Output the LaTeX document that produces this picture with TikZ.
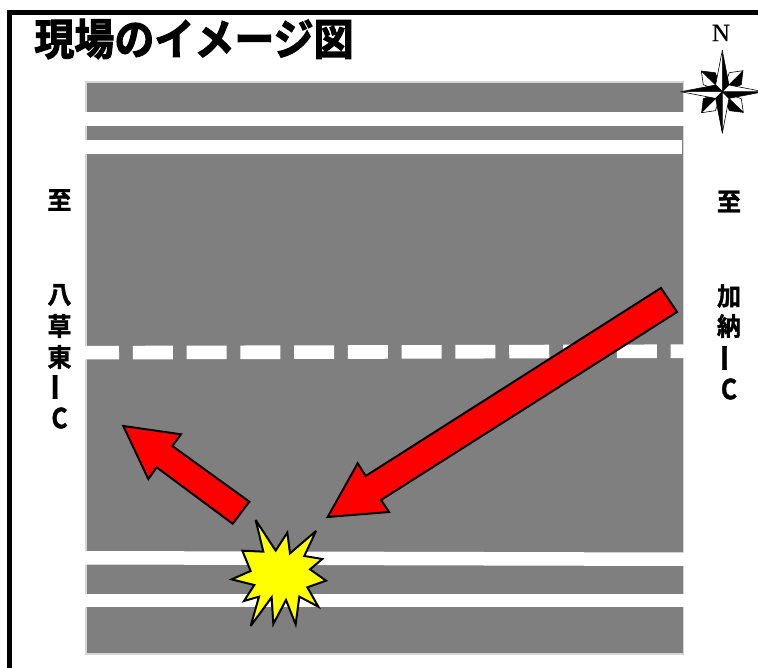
\documentclass[tikz,border=0pt]{standalone}
\usepackage{fontspec}
\newfontfamily\jpfont[FakeBold=1.5]{Noto Sans CJK JP Bold}
\newfontfamily\jpbar[FakeBold=0.6]{Noto Sans CJK JP Bold}
\newfontfamily\jptitle[FakeBold=2.6]{Noto Sans CJK JP Bold}
\newfontfamily\nfont[FakeBold=0.5]{Liberation Serif}
\definecolor{roadgray}{HTML}{7F7F7F}
\definecolor{roadedge}{HTML}{D6D6D6}
\definecolor{burst}{HTML}{FFFF00}
\tikzset{
  frameline/.style={line width=5pt,black},
  whitestrip/.style={fill=white,draw=none},
  redarrow/.style={fill=red,draw=black,line width=2pt,line join=miter},
  sidelabel/.style={font=\jpfont\fontsize{24}{24}\selectfont,inner sep=0pt,anchor=center,text=black,yscale=1.05},
  sidebar/.style={font=\jpbar\fontsize{29}{29}\selectfont,inner sep=0pt,anchor=center,text=black,rotate=90},
  sidec/.style={font=\jpfont\fontsize{27}{27}\selectfont,inner sep=0pt,anchor=center,text=black,xscale=.92,yscale=1.02},
  facetblack/.style={fill=black,draw=black,line width=.5pt,line join=round},
  facetwhite/.style={fill=white,draw=black,line width=.6pt,line join=round},
}
\begin{document}
\begin{tikzpicture}[x=1pt,y=-1pt]
\useasboundingbox (0,0) rectangle (758,668);
\clip (0,0) rectangle (758,668);
\fill[white] (0,0) rectangle (758,668);
% frame
\draw[frameline,line cap=butt,line join=miter] (9.2,672) -- (9.2,12.8) -- (762,12.8);
% road
\draw[fill=roadgray,draw=roadedge,line width=1.8pt] (86,82) rectangle (683.5,654);
% white lines
\fill[whitestrip] (85,112.5) rectangle (684.5,126);
\fill[whitestrip] (85,140) rectangle (682,154);
\fill[whitestrip] (85,551) -- (684.5,552.5) -- (684.5,566) -- (85,564.5) -- cycle;
\fill[whitestrip] (85,593.5) rectangle (684.5,607);
\draw[white,line width=13.6pt,dash pattern=on 40pt off 13.78pt,dash phase=6pt] (85,352.7) -- (684.5,351.2);
% arrows
\draw[redarrow] (327.7,517) -- (357.7,463.3) -- (365.7,476) -- (661,288) -- (677,312) -- (381,500) -- (389,512) -- cycle;
\draw[redarrow] (123.3,426) -- (181,434.3) -- (172.3,446) -- (249.3,501.7) -- (232.7,523.7) -- (156.7,467.3) -- (148.3,479) -- cycle;
% burst
\begin{scope}[shift={(210,500)},x=0.3333pt,y=-0.3333pt]
\draw[fill=burst,draw=black,line width=2pt,line join=miter,miter limit=4]
 (137,60) -- (160,155) -- (97,152) -- (122,213) -- (65,238) -- (133,255) -- (102,303) -- (147,290) -- (122,378) -- (185,292) -- (190,372) -- (228,300) -- (257,373) -- (268,290) -- (325,320) -- (292,262) -- (348,242) -- (300,208) -- (337,177) -- (283,168) -- (318,93) -- (240,160) -- (232,98) -- (197,152) -- cycle;
\end{scope}
% compass
\foreach \a in {0,90,180,270}{
  \begin{scope}[shift={(722.3,91.7)},rotate=\a]
    \draw[facetblack] (0,0) -- (20.7,-21) -- (19,-7) -- cycle;
    \draw[facetwhite] (0,0) -- (20.7,-21) -- (7,-19) -- cycle;
  \end{scope}
}
\foreach \a in {0,90,180,270}{
  \begin{scope}[shift={(722.3,91.7)},rotate=\a]
    \draw[facetblack] (0,0) -- (0,-41.5) -- (6.7,-6.7) -- cycle;
    \draw[facetwhite] (0,0) -- (0,-41.5) -- (-6.7,-6.7) -- cycle;
  \end{scope}
}
% texts
\node[inner sep=0pt,anchor=center,font=\jptitle\fontsize{40}{40}\selectfont,yscale=1.08] (title) at (194,39) {現場のイメージ図};
\node[inner sep=0pt,anchor=center,font=\nfont\fontsize{25}{25}\selectfont] (north) at (721,33) {N};
\node[sidelabel] (la) at (59.5,200) {至};
\node[sidelabel] (lb) at (59.5,295) {八};
\node[sidelabel] (lc) at (59.5,326) {草};
\node[sidelabel] (ld) at (59.5,357) {東};
\node[sidebar] (le) at (59.5,387) {ー};
\node[sidec] (lf) at (59.5,418) {C};
\node[sidelabel] (ra) at (729,201.5) {至};
\node[sidelabel] (rb) at (729,296) {加};
\node[sidelabel] (rc) at (729,326) {納};
\node[sidebar] (rd) at (729,358) {ー};
\node[sidec] (re) at (729,389) {C};
\end{tikzpicture}
\end{document}
